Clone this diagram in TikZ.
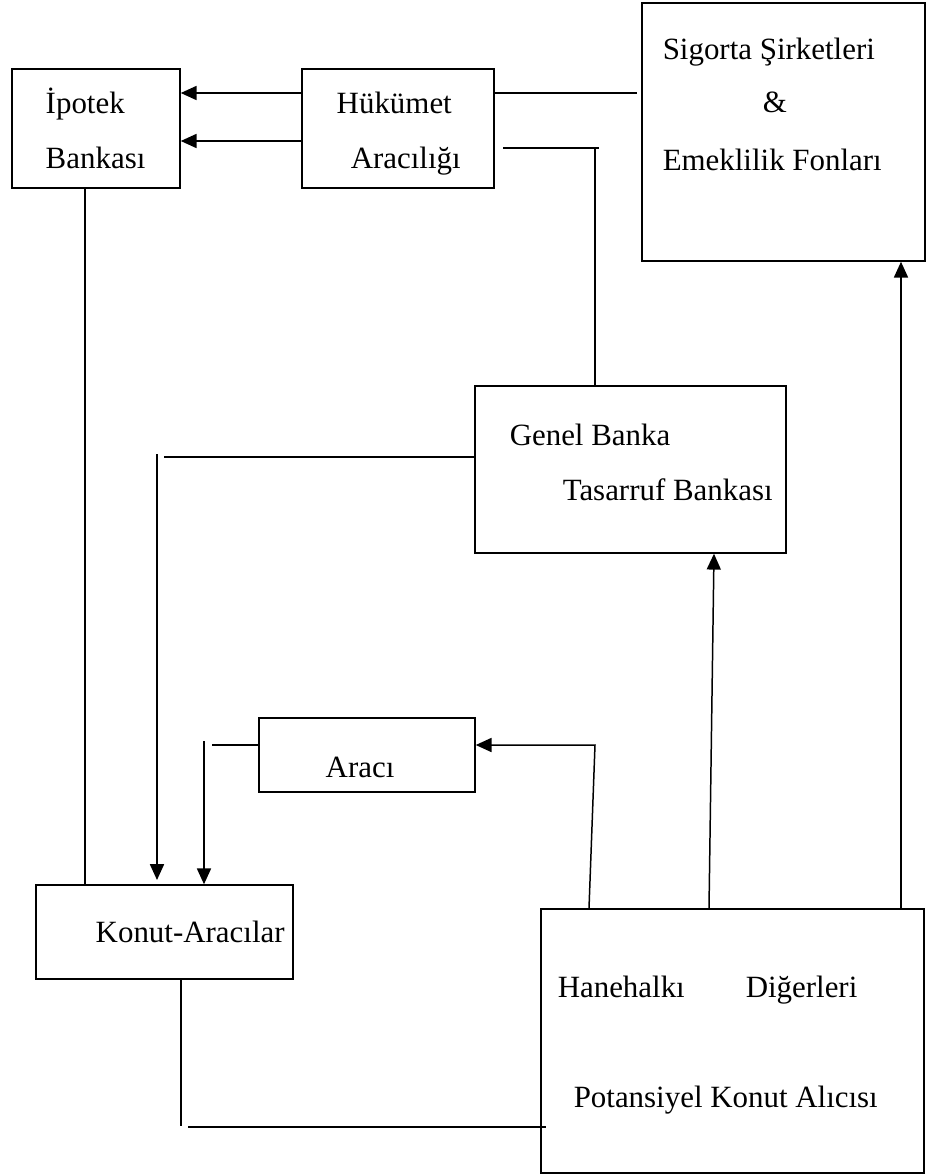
\documentclass[tikz,border=0pt]{standalone}
\usepackage{fontspec}
\setmainfont{Liberation Serif}
\usetikzlibrary{arrows.meta,fit}

\begin{document}
\begin{tikzpicture}[x=0.02cm,y=-0.02cm,line width=0.85pt,
    box/.style={draw,inner sep=0pt},
    txt/.style={inner sep=0pt,anchor=base west,font=\fontsize{17.6}{21}\selectfont},
    arr/.style={-{Triangle[length=9pt,width=8pt]}}]
    \useasboundingbox (0,0) rectangle (929,1174);

    \node[box,fit={(12,69) (180,188)}] (ipotek) {};
    \node[box,fit={(302,69) (494,188)}] (hukumet) {};
    \node[box,fit={(642,3) (925,261)}] (sigorta) {};
    \node[box,fit={(475,386) (786,553)}] (genel) {};
    \node[box,fit={(259,718) (475,792)}] (araci) {};
    \node[box,fit={(36,885) (293,979)}] (konut) {};
    \node[box,fit={(541,909) (924,1173)}] (alici) {};

    \node[txt] (ipotekA) at (45,113) {İpotek};
    \node[txt] (ipotekB) at (45,168) {Bankası};
    \node[txt] (hukumetA) at (336,113) {Hükümet};
    \node[txt] (hukumetB) at (350,168) {Aracılığı};
    \node[txt] (sigortaA) at (662,59) {Sigorta Şirketleri};
    \node[txt] (sigortaB) at (762,112) {\&};
    \node[txt] (sigortaC) at (662,170) {Emeklilik Fonları};
    \node[txt] (genelA) at (509,445) {Genel Banka};
    \node[txt] (genelB) at (562,500) {Tasarruf Bankası};
    \node[txt] (araciA) at (325,777) {Aracı};
    \node[txt] (konutA) at (95,942) {Konut-Aracılar};
    \node[txt] (aliciA) at (557,997) {Hanehalkı};
    \node[txt] (aliciB) at (745,997) {Diğerleri};
    \node[txt] (aliciC) at (573,1107) {Potansiyel Konut Alıcısı};

    \coordinate (h1) at (0,93);
    \coordinate (h2) at (0,141);
    \coordinate (s1) at (637,93);
    \draw[arr] (hukumet.west |- h1) -- (ipotek.east |- h1);
    \draw[arr] (hukumet.west |- h2) -- (ipotek.east |- h2);
    \draw (hukumet.east |- h1) -- (s1);

    \coordinate (g1) at (503,148);
    \coordinate (g2) at (599,148);
    \coordinate (g3) at (595,148);
    \draw (g1) -- (g2);
    \draw (g3) -- (genel.north -| g3);

    \coordinate (ik) at (85,0);
    \draw (ipotek.south -| ik) -- (konut.north -| ik);

    \coordinate (gl) at (164,457);
    \coordinate (gv) at (157,454);
    \coordinate (gt) at (157,880);
    \draw (genel.west |- gl) -- (gl);
    \draw[arr] (gv) -- (gt);

    \coordinate (al) at (212,745);
    \coordinate (av) at (204,741);
    \draw (araci.west |- al) -- (al);
    \draw[arr] (av) -- (konut.north -| av);

    \coordinate (pb) at (589,0);
    \coordinate (pa) at (595,745);
    \draw[arr] (alici.north -| pb) -- (pa) -- (araci.east |- pa);
    \coordinate (pg) at (709,0);
    \coordinate (gb) at (714,0);
    \draw[arr] (alici.north -| pg) -- (genel.south -| gb);
    \coordinate (ps) at (901,0);
    \draw[arr] (alici.north -| ps) -- (sigorta.south -| ps);

    \coordinate (kb) at (181,1126);
    \coordinate (kh) at (188,1127);
    \draw (konut.south -| kb) -- (kb);
    \draw (kh) -- (alici.west |- kh) -- ++(6,0);
\end{tikzpicture}
\end{document}
